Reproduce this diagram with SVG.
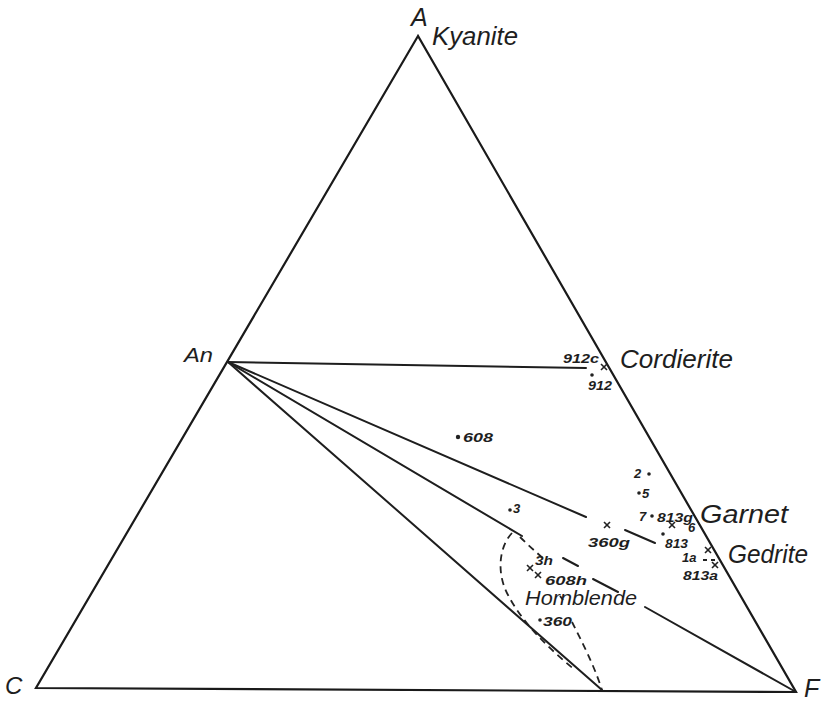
<svg xmlns="http://www.w3.org/2000/svg" width="824" height="701" viewBox="0 0 824 701">
<defs>
<style>
.bg{fill:#ffffff}
.ln{stroke:#1e1e1e;stroke-width:2;fill:none;stroke-linecap:round}
.tri{stroke:#1a1a1a;stroke-width:2.2;fill:none;stroke-linejoin:miter}
.dash{stroke:#222;stroke-width:1.8;fill:none;stroke-dasharray:7 5}
.x{stroke:#222;stroke-width:1.6}
.dot{fill:#222}
.t{font-family:"Liberation Sans","DejaVu Sans",sans-serif;font-style:italic;fill:#1e1e1e}
.big{font-size:25px}
.mid{font-size:20px}
.sm{font-size:13px;font-weight:bold}
</style>
</defs>
<rect class="bg" x="0" y="0" width="824" height="701"/>
<g id="connectors">
<path id="triangle" class="tri" d="M418,36 L36,688 L796,692 Z"/>
<path id="an-cordierite" class="ln" d="M228,362 L586,368"/>
<path id="an-garnet-1" class="ln" d="M228,362 L586,517"/>
<path id="an-garnet-2" class="ln" d="M625,530 L655,543"/>
<path id="an-f-1" class="ln" d="M228,362 L522,536"/>
<path id="an-f-2" class="ln" d="M563,558 L578,566"/>
<path id="an-f-3" class="ln" d="M593,579 L618,592"/>
<path id="an-f-4" class="ln" d="M645,607 L796,692"/>
<path id="an-base" class="ln" d="M228,362 L602,690"/>
<path id="hb-left" class="dash" d="M512,533 C498,548 497,575 508,595 C522,622 548,648 575,670"/>
<path id="hb-right" class="dash" d="M520,537 C528,545 536,552 545,560 M560,596 L563,600 M572,622 C582,642 594,665 602,690"/>
<path id="gedrite-tie" class="dash" d="M703,560 L716,560" style="stroke-dasharray:4 4"/>
</g>
<g id="node-A"><text class="t big" x="411" y="26">A</text></g>
<g id="node-kyanite"><text class="t big" x="432" y="45" textLength="86" lengthAdjust="spacingAndGlyphs">Kyanite</text></g>
<g id="node-An"><text class="t mid" x="184" y="362" textLength="29" lengthAdjust="spacingAndGlyphs">An</text></g>
<g id="node-C"><text class="t" x="5" y="694" style="font-size:24px">C</text></g>
<g id="node-F"><text class="t big" x="804" y="697">F</text></g>
<g id="node-cordierite">
<text class="t big" x="620" y="368" textLength="113" lengthAdjust="spacingAndGlyphs">Cordierite</text>
<line class="x" x1="601" y1="364" x2="607" y2="370"/><line class="x" x1="607" y1="364" x2="601" y2="370"/>
</g>
<g id="pt-912c"><text class="t sm" x="563" y="363" textLength="36" lengthAdjust="spacingAndGlyphs">912c</text></g>
<g id="pt-912"><circle class="dot" cx="592" cy="375" r="1.8"/><text class="t sm" x="588" y="390" textLength="24" lengthAdjust="spacingAndGlyphs">912</text></g>
<g id="pt-608"><circle class="dot" cx="458" cy="437" r="2.2"/><text class="t sm" x="463" y="442" textLength="30" lengthAdjust="spacingAndGlyphs">608</text></g>
<g id="pt-2"><text class="t sm" x="634" y="478">2</text><circle class="dot" cx="649" cy="474" r="1.8"/></g>
<g id="pt-5"><circle class="dot" cx="639" cy="493" r="1.8"/><text class="t sm" x="642" y="498">5</text></g>
<g id="pt-3"><circle class="dot" cx="510" cy="510" r="1.8"/><text class="t sm" x="513" y="513">3</text></g>
<g id="pt-7"><text class="t sm" x="639" y="521">7</text><circle class="dot" cx="652" cy="516" r="1.8"/></g>
<g id="pt-813g"><text class="t sm" x="657" y="522" textLength="36" lengthAdjust="spacingAndGlyphs">813g</text>
<line class="x" x1="669" y1="522" x2="675" y2="528"/><line class="x" x1="675" y1="522" x2="669" y2="528"/></g>
<g id="pt-6"><text class="t sm" x="688" y="532">6</text></g>
<g id="node-garnet"><text class="t big" x="700" y="523" textLength="88" lengthAdjust="spacingAndGlyphs">Garnet</text></g>
<g id="pt-813"><circle class="dot" cx="663" cy="534" r="1.8"/><text class="t sm" x="665" y="548" textLength="23" lengthAdjust="spacingAndGlyphs">813</text></g>
<g id="pt-360g"><line class="x" x1="604" y1="522" x2="610" y2="528"/><line class="x" x1="610" y1="522" x2="604" y2="528"/>
<text class="t sm" x="588" y="547" textLength="42" lengthAdjust="spacingAndGlyphs">360g</text></g>
<g id="pt-1a"><text class="t sm" x="682" y="562">1a</text>
<line class="x" x1="705" y1="547" x2="711" y2="553"/><line class="x" x1="711" y1="547" x2="705" y2="553"/></g>
<g id="pt-813a"><line class="x" x1="712" y1="562" x2="718" y2="568"/><line class="x" x1="718" y1="562" x2="712" y2="568"/>
<text class="t sm" x="683" y="580" textLength="35" lengthAdjust="spacingAndGlyphs">813a</text></g>
<g id="node-gedrite"><text class="t big" x="728" y="563" textLength="80" lengthAdjust="spacingAndGlyphs">Gedrite</text></g>
<g id="pt-3h"><text class="t sm" x="535" y="565" textLength="18" lengthAdjust="spacingAndGlyphs">3h</text>
<line class="x" x1="527" y1="565" x2="533" y2="571"/><line class="x" x1="533" y1="565" x2="527" y2="571"/></g>
<g id="pt-608h"><line class="x" x1="535" y1="572" x2="541" y2="578"/><line class="x" x1="541" y1="572" x2="535" y2="578"/>
<text class="t sm" x="545" y="585" textLength="42" lengthAdjust="spacingAndGlyphs">608h</text></g>
<g id="node-hornblende"><text class="t mid" x="525" y="605" textLength="112" lengthAdjust="spacingAndGlyphs">Hornblende</text></g>
<g id="pt-360"><circle class="dot" cx="540" cy="620" r="1.8"/><text class="t sm" x="543" y="626" textLength="29" lengthAdjust="spacingAndGlyphs">360</text></g>
</svg>
